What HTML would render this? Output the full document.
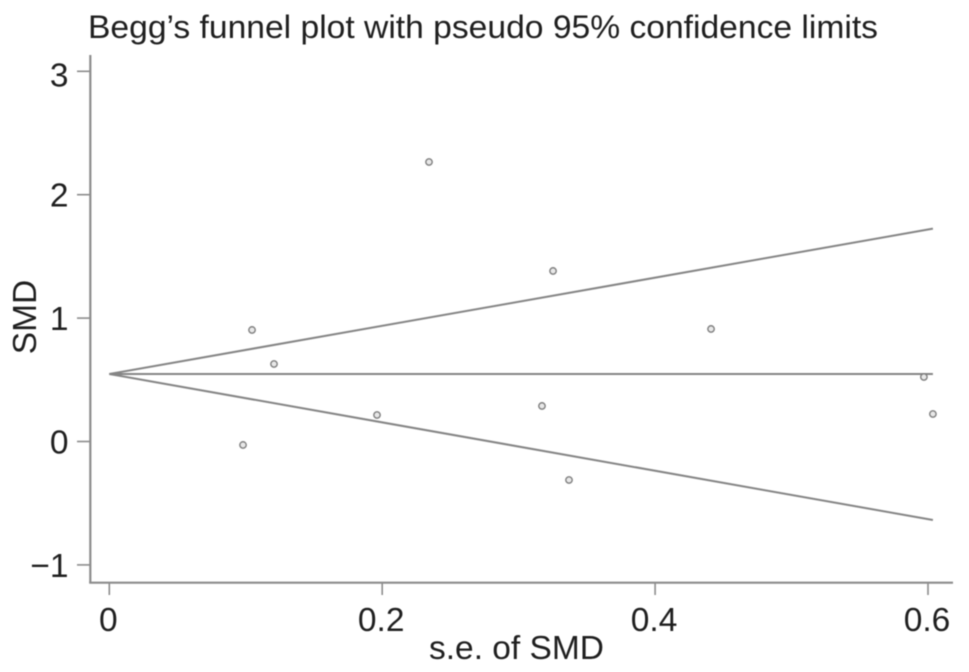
<!DOCTYPE html>
<html lang="en">
<head>
<meta charset="utf-8">
<title>Begg's funnel plot</title>
<style>
html,body{margin:0;padding:0;background:#fff;width:969px;height:672px;overflow:hidden}
svg{display:block;filter:blur(0.6px)}
text{font-family:"Liberation Sans",Arial,sans-serif;fill:#1f1f1f}
</style>
</head>
<body>
<svg id="chart" xmlns="http://www.w3.org/2000/svg" width="969" height="672" viewBox="0 0 969 672">
  <text x="88" y="38" font-size="32.5" textLength="790" lengthAdjust="spacingAndGlyphs">Begg’s funnel plot with pseudo 95% confidence limits</text>
  <text x="516.5" y="659" font-size="33.5" text-anchor="middle">s.e. of SMD</text>
  <text transform="translate(36 317) rotate(-90)" font-size="33.5" text-anchor="middle">SMD</text>
  <line x1="90.3" y1="55" x2="90.3" y2="583" stroke="#8c8c8c" stroke-width="2.2"/>
  <line x1="89.2" y1="582.7" x2="953" y2="582.7" stroke="#8c8c8c" stroke-width="2.2"/>
  <g id="ticks"></g>
  <g id="funnel"></g>
  <g id="points"></g>
</svg>
<script>
const xTicks = [0, 0.2, 0.4, 0.6];
const xTickLabels = ["0", "0.2", "0.4", "0.6"];
const yTicks = [-1, 0, 1, 2, 3];
const yTickLabels = ["\u22121", "0", "1", "2", "3"];
const studySe = [0.098, 0.1046, 0.1207, 0.1962, 0.2343, 0.3171, 0.3252, 0.3369, 0.441, 0.597, 0.6036];
const studySmd = [-0.028, 0.904, 0.628, 0.215, 2.265, 0.288, 1.382, -0.312, 0.912, 0.523, 0.223];
const funnelSe = [0, 0.6036];
const funnelUpper = [0.547, 1.725];
const funnelCentre = [0.547, 0.547];
const funnelLower = [0.547, -0.636];

function xScale(v) { return 109.3 + v * 1364.5; }
function yScale(v) { return 441.5 - v * 123.4; }

const NS = 'http://www.w3.org/2000/svg';
function make(tag, parent, attrs) {
  const el = document.createElementNS(NS, tag);
  for (const k in attrs) el.setAttribute(k, attrs[k]);
  parent.appendChild(el);
  return el;
}

const ticksG = document.getElementById('ticks');
xTicks.forEach(function (v, i) {
  const px = xScale(v);
  const tick = make('line', ticksG, {x1: px, y1: 583, x2: px, y2: 595, stroke: '#8c8c8c', 'stroke-width': 1.6});
  
  
  const label = make('text', ticksG, {x: px - 1, y: 631, 'font-size': 33.5, 'text-anchor': 'middle'});
  label.textContent = xTickLabels[i];
  
  
});
yTicks.forEach(function (v, i) {
  const py = yScale(v);
  const tick = make('line', ticksG, {x1: 77, y1: py, x2: 90, y2: py, stroke: '#8c8c8c', 'stroke-width': 1.6});
  
  
  const topShift = i === yTicks.length - 1 ? 3 : 0;
  const label = make('text', ticksG, {x: 68.5, y: py + 12 + topShift, 'font-size': 33.5, 'text-anchor': 'end'});
  label.textContent = yTickLabels[i];
  
  
});

const funnelG = document.getElementById('funnel');
[funnelUpper, funnelCentre, funnelLower].forEach(function (series) {
  const pts = series.map(function (v, i) { return xScale(funnelSe[i]) + ',' + yScale(v); }).join(' ');
  const line = make('polyline', funnelG, {points: pts, fill: 'none', stroke: '#858585', 'stroke-width': 2});
  
  
});

const pointsG = document.getElementById('points');
studySe.forEach(function (se, i) {
  const dot = make('circle', pointsG, {cx: xScale(se), cy: yScale(studySmd[i]), r: 3.2, fill: '#e8e8e8', stroke: '#7f7f7f', 'stroke-width': 1.4});
  
  
});
</script>
</body>
</html>
